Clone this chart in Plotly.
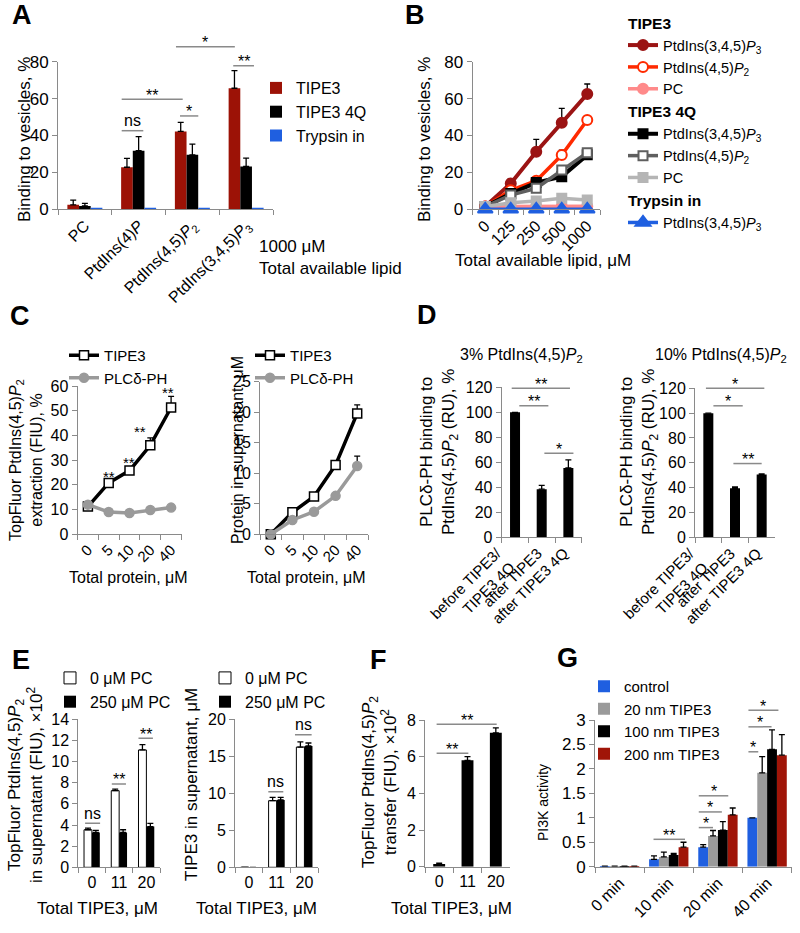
import plotly.graph_objects as go

W, H = 800, 933
FONT = "Liberation Sans, Arial, Helvetica, sans-serif"
AXC = "#8a8a8a"
SIGC = "#8a8a8a"

# ---------------- data ----------------
# Panel A
A_lipids = ["PC", "PtdIns(4)<i>P</i>", "PtdIns(4,5)<i>P</i><sub>2</sub>", "PtdIns(3,4,5)<i>P</i><sub>3</sub>"]
A_tipe3 = [2.4, 22.8, 42.2, 65.6]
A_tipe3_err = [2.6, 4.8, 4.9, 9.6]
A_tipe3_4q = [1.8, 31.8, 29.5, 23.2]
A_tipe3_4q_err = [1.4, 7.6, 5.8, 4.5]
A_trypsin = [0.6, 0.6, 0.6, 0.6]

# Panel B
B_lipid = ["0", "125", "250", "500", "1000"]
B_t3_pip3 = [1.5, 14.0, 31.2, 46.9, 62.5]
B_t3_pip3_err = [0, 2.5, 6.7, 7.8, 5.4]
B_t3_pip2 = [1.5, 10.3, 15.5, 29.4, 48.4]
B_t3_pip2_err = [0, 1.0, 1.5, 2.7, 1.0]
B_t3_pc = [1.5, 1.5, 1.5, 1.6, 1.6]
B_4q_pip3 = [1.5, 8.5, 14.5, 17.7, 29.5]
B_4q_pip2 = [1.5, 7.7, 11.4, 21.3, 30.7]
B_4q_pc = [1.5, 3.5, 4.5, 6.0, 5.0]
B_trypsin = [0, 0, 0, 0, 0]

# Panel C
C_protein = ["0", "5", "10", "20", "40"]
C1_tipe3 = [11.2, 20.8, 25.8, 36.0, 51.3]
C1_tipe3_err = [0.5, 1.0, 1.5, 3.0, 4.5]
C1_plc = [12.0, 9.0, 8.6, 9.8, 10.8]
C1_plc_err = [0.5, 0.5, 0.4, 0.5, 0.8]
C1_stars = ["", "**", "**", "**", "**"]
C2_tipe3 = [0.0, 3.6, 6.2, 11.35, 19.8]
C2_tipe3_err = [0, 0.3, 0.3, 0.3, 1.4]
C2_plc = [0.0, 2.35, 3.7, 6.3, 11.2]
C2_plc_err = [0, 0.2, 0.2, 0.3, 1.6]

# Panel D
D_cond = ["before TIPE3/<br>TIPE3 4Q", "after TIPE3", "after TIPE3 4Q"]
D3_binding = [100, 38.5, 55.5]
D3_err = [0, 3.0, 6.5]
D10_binding = [100, 39.5, 50.5]
D10_err = [0, 1.0, 0.6]

# Panel E
E_tipe3 = ["0", "11", "20"]
E1_pc0 = [3.55, 7.25, 11.1]
E1_pc0_err = [0.15, 0.15, 0.5]
E1_pc250 = [3.3, 3.3, 3.85]
E1_pc250_err = [0.2, 0.25, 0.3]
E2_pc0 = [0, 9.0, 16.25]
E2_pc0_err = [0, 0.45, 0.7]
E2_pc250 = [0, 9.1, 16.4]
E2_pc250_err = [0, 0.35, 0.4]

# Panel F
F_tipe3 = ["0", "11", "20"]
F_transfer = [0.15, 5.8, 7.3]
F_transfer_err = [0.05, 0.2, 0.27]

# Panel G
G_time = ["0 min", "10 min", "20 min", "40 min"]
G_control = [0.01, 0.15, 0.4, 1.0]
G_control_err = [0, 0.07, 0.05, 0]
G_20nm = [0.01, 0.2, 0.63, 1.92]
G_20nm_err = [0, 0.1, 0.11, 0.33]
G_100nm = [0.01, 0.24, 0.75, 2.4]
G_100nm_err = [0, 0.03, 0.17, 0.4]
G_200nm = [0.01, 0.4, 1.06, 2.28]
G_200nm_err = [0, 0.1, 0.14, 0.42]

# significance brackets: (panel, x0, x1, y, text) ; x in category-index units, y in data units
SIG = [
    (1, 0.685, 1.087, 42.6, "ns"), (1, 0.685, 1.82, 59.6, "**"), (1, 1.77, 2.11, 50.6, "*"),
    (1, 1.695, 2.79, 88.1, "*"), (1, 2.76, 3.146, 77.8, "**"),
    (5, -0.125, 2.06, 119.2, "**"), (5, 0.16, 1.25, 105.3, "**"), (5, 1.10, 2.19, 67.2, "*"),
    (6, -0.09, 2.10, 120.0, "*"), (6, 0.19, 1.29, 105.9, "*"), (6, 0.94, 2.0, 59.4, "**"),
    (7, -0.25, 0.30, 4.16, "ns"), (7, 0.73, 1.25, 7.88, "**"), (7, 1.71, 2.24, 12.2, "**"),
    (8, 0.70, 1.24, 10.2, "ns"), (8, 1.66, 2.26, 17.9, "ns"),
    (9, -0.09, 2.03, 7.77, "**"), (9, -0.09, 1.03, 6.18, "**"),
    (10, 0.69, 1.33, 0.56, "**"),
    (10, 1.61, 1.90, 0.80, "*"), (10, 1.61, 2.08, 1.12, "*"), (10, 1.61, 2.21, 1.45, "*"),
    (10, 2.62, 2.82, 2.35, "*"), (10, 2.62, 3.09, 2.86, "*"), (10, 2.62, 3.23, 3.20, "*"),
]

# ---------------- colors ----------------
RED_A = "#9c1206"
BLUE = "#1f5fe0"
DKRED = "#9b1414"
BRRED = "#ff2a00"
PINK = "#ff8a8a"
DKGRAY = "#5f5f5f"
LTGRAY = "#b5b5b5"
GRAY = "#9a9a9a"
G_RED = "#a01508"

# ---------------- panel geometry (pixels) ----------------
PANEL = {
    1: dict(x=(58, 273), y=(61.7, 209.3), yr=(0, 80), dt=20, cats=A_lipids, angle=-45, tf=16, ytf=17),
    2: dict(x=(472.5, 600), y=(61.7, 209.3), yr=(0, 80), dt=20, cats=B_lipid, angle=-45, tf=16, ytf=17),
    3: dict(x=(77.5, 181.5), y=(386, 534.3), yr=(0, 60), dt=10, cats=C_protein, angle=-45, tf=15, ytf=16),
    4: dict(x=(260, 368), y=(381.7, 534.3), yr=(0, 25), dt=5, cats=C_protein, angle=-45, tf=15, ytf=16),
    5: dict(x=(501.7, 581.7), y=(387.3, 537.3), yr=(0, 120), dt=20, cats=D_cond, angle=-45, tf=15, ytf=16),
    6: dict(x=(695, 775), y=(388.3, 537.3), yr=(0, 120), dt=20, cats=D_cond, angle=-45, tf=15, ytf=16),
    7: dict(x=(78.3, 160), y=(719.3, 867.3), yr=(0, 14), dt=2, cats=E_tipe3, angle=0, tf=16, ytf=16),
    8: dict(x=(235, 318.3), y=(719.3, 867.3), yr=(0, 20), dt=5, cats=E_tipe3, angle=0, tf=16, ytf=16),
    9: dict(x=(425, 510), y=(720, 866.7), yr=(0, 8), dt=2, cats=F_tipe3, angle=0, tf=16, ytf=16),
    10: dict(x=(595, 791.7), y=(720, 866.7), yr=(0, 3), dt=0.5, cats=G_time, angle=-45, tf=16, ytf=17),
}
ANNOTATED_TICKS = {5, 6}


def sfx(k):
    return "" if k == 1 else str(k)


def ypaper(k, v):
    p = PANEL[k]
    top, bot = p["y"]
    r0, r1 = p["yr"]
    py = bot - (v - r0) / (r1 - r0) * (bot - top)
    return 1 - py / H


fig = go.Figure()
layout = dict(
    width=W, height=H, margin=dict(l=0, r=0, t=0, b=0, pad=0, autoexpand=False),
    paper_bgcolor="white", plot_bgcolor="white",
    font=dict(family=FONT, size=15, color="black"),
    barmode="overlay", showlegend=True,
)

for k, p in PANEL.items():
    s = sfx(k)
    layout[f"xaxis{s}"] = dict(
        domain=[p["x"][0] / W, p["x"][1] / W], anchor=f"y{s}", type="category",
        categoryorder="array", categoryarray=p["cats"], range=[-0.5, len(p["cats"]) - 0.5],
        tickson="boundaries", ticks="outside", ticklen=5, tickcolor=AXC, tickwidth=1,
        showline=True, linecolor=AXC, linewidth=1, showgrid=False, zeroline=False,
        tickangle=p["angle"], tickfont=dict(family=FONT, size=p["tf"], color="black"),
        showticklabels=k not in ANNOTATED_TICKS, fixedrange=True,
    )
    layout[f"yaxis{s}"] = dict(
        domain=[1 - p["y"][1] / H, 1 - p["y"][0] / H], anchor=f"x{s}",
        range=list(p["yr"]), dtick=p["dt"], tick0=0, ticks="outside", ticklen=5,
        tickcolor=AXC, tickwidth=1, showline=True, linecolor=AXC, linewidth=1,
        showgrid=False, zeroline=False,
        tickfont=dict(family=FONT, size=p["ytf"], color="black"), fixedrange=True,
    )


def err(arr):
    return dict(type="data", array=arr, arrayminus=[0] * len(arr), symmetric=False,
                color="black", thickness=1.3, width=3)


def bar(k, cats, vals, errs, name, color, width, offset, legend, line_color=None, show=True):
    fig.add_trace(go.Bar(
        x=cats, y=vals, name=name, xaxis=f"x{sfx(k)}", yaxis=f"y{sfx(k)}",
        width=width, offset=offset,
        marker=dict(color=color, line=dict(color=line_color or color, width=1 if line_color else 0)),
        error_y=err(errs) if errs is not None else None,
        legend=legend, showlegend=show,
    ))


# ---- A ----
wA = 0.217
bar(1, A_lipids, A_tipe3, A_tipe3_err, "TIPE3", RED_A, wA, -1.5 * wA, "legend")
bar(1, A_lipids, A_tipe3_4q, A_tipe3_4q_err, "TIPE3 4Q", "black", wA, -0.5 * wA, "legend")
bar(1, A_lipids, A_trypsin, None, "Trypsin in", BLUE, wA, 0.5 * wA, "legend")


# ---- B ----
def bline(y, e, name, color, lw, symbol, size, fill, group, gtitle):
    fig.add_trace(go.Scatter(
        x=B_lipid, y=y, name=name, xaxis="x2", yaxis="y2", mode="lines+markers",
        line=dict(color=color, width=lw),
        marker=dict(symbol=symbol, size=size, color=fill, line=dict(color=color, width=2)),
        error_y=err(e) if e is not None else None, cliponaxis=False,
        legend="legend2", legendgroup=group,
        legendgrouptitle=dict(text=f"<b>{gtitle}</b>", font=dict(family=FONT, size=15.5)),
    ))


P3 = "PtdIns(3,4,5)<i>P</i><sub>3</sub>"
P2 = "PtdIns(4,5)<i>P</i><sub>2</sub>"
bline(B_t3_pip3, B_t3_pip3_err, P3, DKRED, 4, "circle", 10, DKRED, "t3", "TIPE3")
bline(B_t3_pip2, B_t3_pip2_err, P2, BRRED, 3.5, "circle", 10, "white", "t3", "TIPE3")
bline(B_t3_pc, None, "PC", PINK, 3.5, "circle", 10, PINK, "t3", "TIPE3")
bline(B_4q_pip3, None, P3, "black", 4, "square", 9, "black", "q", "TIPE3 4Q")
bline(B_4q_pip2, None, P2, DKGRAY, 3.5, "square", 9, "white", "q", "TIPE3 4Q")
bline(B_4q_pc, None, "PC", LTGRAY, 3.5, "square", 9, LTGRAY, "q", "TIPE3 4Q")
bline(B_trypsin, None, P3, BLUE, 3.5, "triangle-up", 13, BLUE, "tr", "Trypsin in")


# ---- C ----
def cline(k, y, e, name, color, symbol, size, fill, legend):
    fig.add_trace(go.Scatter(
        x=C_protein, y=y, name=name, xaxis=f"x{k}", yaxis=f"y{k}", mode="lines+markers",
        line=dict(color=color, width=3.5),
        marker=dict(symbol=symbol, size=size, color=fill, line=dict(color=color, width=1.5)),
        error_y=err(e), cliponaxis=False, legend=legend,
    ))


cline(3, C1_tipe3, C1_tipe3_err, "TIPE3", "black", "square", 9, "white", "legend3")
cline(3, C1_plc, C1_plc_err, "PLCδ-PH", GRAY, "circle", 9, GRAY, "legend3")
cline(4, C2_tipe3, C2_tipe3_err, "TIPE3", "black", "square", 9, "white", "legend4")
cline(4, C2_plc, C2_plc_err, "PLCδ-PH", GRAY, "circle", 9, GRAY, "legend4")

# ---- D ----
wD = 0.375
bar(5, D_cond, D3_binding, D3_err, "3%", "black", wD, -wD / 2, "legend", show=False)
bar(6, D_cond, D10_binding, D10_err, "10%", "black", wD, -wD / 2, "legend", show=False)

# ---- E ----
wE = 0.29
bar(7, E_tipe3, E1_pc0, E1_pc0_err, "0 μM PC", "white", wE, -wE, "legend5", line_color="black")
bar(7, E_tipe3, E1_pc250, E1_pc250_err, "250 μM PC", "black", wE, 0, "legend5")
bar(8, E_tipe3, E2_pc0, E2_pc0_err, "0 μM PC", "white", wE, -wE, "legend6", line_color="black")
bar(8, E_tipe3, E2_pc250, E2_pc250_err, "250 μM PC", "black", wE, 0, "legend6")

# ---- F ----
wF = 0.42
bar(9, F_tipe3, F_transfer, F_transfer_err, "F", "black", wF, -wF / 2, "legend", show=False)

# ---- G ----
wG = 0.2
bar(10, G_time, G_control, G_control_err, "control", BLUE, wG, -2 * wG, "legend7")
bar(10, G_time, G_20nm, G_20nm_err, "20 nm TIPE3", GRAY, wG, -wG, "legend7")
bar(10, G_time, G_100nm, G_100nm_err, "100 nm TIPE3", "black", wG, 0, "legend7")
bar(10, G_time, G_200nm, G_200nm_err, "200 nm TIPE3", G_RED, wG, wG, "legend7")

# ---------------- legends ----------------
leg = dict(bgcolor="rgba(0,0,0,0)", borderwidth=0, xanchor="left", yanchor="top",
           itemclick=False, itemdoubleclick=False, tracegroupgap=0)
layout["legend"] = dict(leg, x=256 / W, y=1 - 71 / H, font=dict(family=FONT, size=16))
layout["legend2"] = dict(leg, x=623 / W, y=1 - 6 / H, font=dict(family=FONT, size=14.5))
layout["legend3"] = dict(leg, x=64 / W, y=1 - 339 / H, font=dict(family=FONT, size=15))
layout["legend4"] = dict(leg, x=250 / W, y=1 - 339 / H, font=dict(family=FONT, size=15))
layout["legend5"] = dict(leg, x=50 / W, y=1 - 661 / H, font=dict(family=FONT, size=16))
layout["legend6"] = dict(leg, x=205 / W, y=1 - 661 / H, font=dict(family=FONT, size=16))
layout["legend7"] = dict(leg, x=584 / W, y=1 - 670 / H, font=dict(family=FONT, size=15))

# ---------------- annotations ----------------
ann = []
shapes = []


def text(x, y, t, size, angle=0, bold=False, xanchor="center", yanchor="middle"):
    ann.append(dict(x=x / W, y=1 - y / H, xref="paper", yref="paper", text=f"<b>{t}</b>" if bold else t,
                    showarrow=False, textangle=angle, xanchor=xanchor, yanchor=yanchor,
                    font=dict(family=FONT, size=size, color="black")))


for t, x, y in [("A", 22, 15), ("B", 415, 15), ("C", 20, 316), ("D", 427, 315),
                ("E", 21, 660), ("F", 378, 660), ("G", 567, 658)]:
    text(x, y, t, 27, bold=True)

# axis titles
text(25, 140, "Binding to vesicles, %", 17, angle=-90)
text(425, 140, "Binding to vesicles, %", 17, angle=-90)
text(257, 247, "1000 μM", 17, xanchor="left")
text(257, 268, "Total available lipid", 17, xanchor="left")
text(543, 260, "Total available lipid, μM", 17)
text(26, 460, "TopFluor PtdIns(4,5)<i>P</i><sub>2</sub><br>extraction (FIU), %", 16, angle=-90)
text(237, 450, "Protein in supernatant, μM", 16, angle=-90)
text(128, 577, "Total protein, μM", 16)
text(306, 577, "Total protein, μM", 16)
text(521, 355, "3% PtdIns(4,5)<i>P</i><sub>2</sub>", 16)
text(721, 355, "10% PtdIns(4,5)<i>P</i><sub>2</sub>", 16)
text(439, 452, "PLCδ-PH binding to<br>PtdIns(4,5)<i>P</i><sub>2</sub> (RU), %", 17, angle=-90)
text(639, 452, "PLCδ-PH binding to<br>PtdIns(4,5)<i>P</i><sub>2</sub> (RU), %", 17, angle=-90)
text(25, 785, "TopFluor PtdIns(4,5)<i>P</i><sub>2</sub><br>in supernatant (FIU), ×10<sup>2</sup>", 17, angle=-90)
text(191, 785, "TIPE3 in supernatant, μM", 17, angle=-90)
text(379, 782, "TopFluor PtdIns(4,5)<i>P</i><sub>2</sub><br>transfer (FIU), ×10<sup>2</sup>", 17, angle=-90)
text(543, 803, "PI3K activity", 14, angle=-90)
text(97, 908, "Total TIPE3, μM", 17)
text(256, 908, "Total TIPE3, μM", 17)
text(452, 908, "Total TIPE3, μM", 17)

# rotated category labels for panel D (multi-line label stacked above its tick)
for k in ANNOTATED_TICKS:
    for c in PANEL[k]["cats"]:
        ann.append(dict(x=c, y=ypaper(k, 0), xref=f"x{k}", yref="paper", text=c, showarrow=False,
                        textangle=-45, xanchor="right", yanchor="top", align="right",
                        xshift=6, yshift=-4, font=dict(family=FONT, size=15, color="black")))

# significance brackets
for k, x0, x1, yv, t in SIG:
    yp = ypaper(k, yv)
    shapes.append(dict(type="line", xref=f"x{sfx(k)}", yref="paper", x0=x0, x1=x1, y0=yp, y1=yp,
                       line=dict(color=SIGC, width=1.5)))
    ann.append(dict(x=(x0 + x1) / 2, y=yp, xref=f"x{sfx(k)}", yref="paper", text=t, showarrow=False,
                    xanchor="center", yanchor="middle", yshift=10 if t == "ns" else 4,
                    font=dict(family=FONT, size=16, color="black")))

# stars above TIPE3 points in panel C: (x in category-index units, y centre in data units)
C1_star_pos = [None, (1.0, 24.7), (1.98, 30.1), (2.51, 42.9), (3.84, 58.4)]
for st, pos in zip(C1_stars, C1_star_pos):
    if st:
        ann.append(dict(x=pos[0], y=ypaper(3, pos[1]), xref="x3", yref="paper", text=st,
                        showarrow=False, xanchor="center", yanchor="middle", yshift=-3,
                        font=dict(family=FONT, size=15, color="black")))

layout["annotations"] = ann
layout["shapes"] = shapes
fig.update_layout(**layout)

fig.write_html("out.html", include_plotlyjs=True, config={"displayModeBar": False},
               post_script="document.body.style.margin='0';document.body.style.overflow='hidden';")
